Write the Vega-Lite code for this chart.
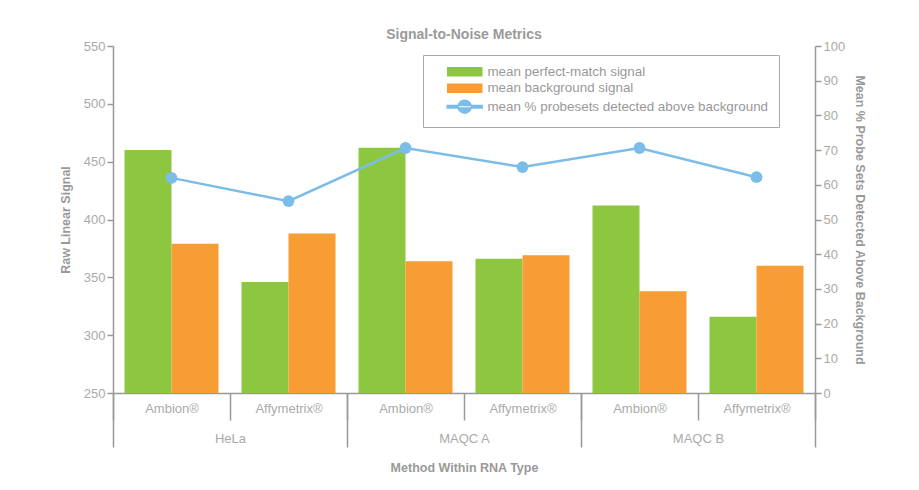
{
  "$schema": "https://vega.github.io/schema/vega-lite/v6.json",
  "width": 702,
  "height": 347,
  "autosize": {"type": "none"},
  "padding": {"left": 113, "top": 46, "right": 104, "bottom": 97},
  "background": "white",
  "title": {"text": "Signal-to-Noise Metrics", "fontSize": 14, "font": "Liberation Sans", "fontWeight": "bold", "color": "#9a9a9a", "anchor": "middle", "offset": -2},
  "config": {
    "view": {"stroke": null},
    "axis": {"domainColor": "#999999", "tickColor": "#999999", "labelColor": "#aaaaaa", "labelFont": "Liberation Sans", "labelFontSize": 13, "titleFont": "Liberation Sans", "titleFontSize": 12.5, "titleFontWeight": "bold", "titleColor": "#999999", "grid": false, "domainWidth": 1.5, "tickWidth": 1.5}
  },
  "datasets": {
    "bars": [
      {"cat": "HeLa|Ambion®", "series": "mean perfect-match signal", "value": 460},
      {"cat": "HeLa|Ambion®", "series": "mean background signal", "value": 379},
      {"cat": "HeLa|Affymetrix®", "series": "mean perfect-match signal", "value": 346},
      {"cat": "HeLa|Affymetrix®", "series": "mean background signal", "value": 388},
      {"cat": "MAQC A|Ambion®", "series": "mean perfect-match signal", "value": 462},
      {"cat": "MAQC A|Ambion®", "series": "mean background signal", "value": 364},
      {"cat": "MAQC A|Affymetrix®", "series": "mean perfect-match signal", "value": 366},
      {"cat": "MAQC A|Affymetrix®", "series": "mean background signal", "value": 369},
      {"cat": "MAQC B|Ambion®", "series": "mean perfect-match signal", "value": 412},
      {"cat": "MAQC B|Ambion®", "series": "mean background signal", "value": 338},
      {"cat": "MAQC B|Affymetrix®", "series": "mean perfect-match signal", "value": 316},
      {"cat": "MAQC B|Affymetrix®", "series": "mean background signal", "value": 360}
    ],
    "pct": [
      {"cat": "HeLa|Ambion®", "series": "mean % probesets detected above background", "pct": 62},
      {"cat": "HeLa|Affymetrix®", "series": "mean % probesets detected above background", "pct": 55.3},
      {"cat": "MAQC A|Ambion®", "series": "mean % probesets detected above background", "pct": 70.6},
      {"cat": "MAQC A|Affymetrix®", "series": "mean % probesets detected above background", "pct": 65.1},
      {"cat": "MAQC B|Ambion®", "series": "mean % probesets detected above background", "pct": 70.6},
      {"cat": "MAQC B|Affymetrix®", "series": "mean % probesets detected above background", "pct": 62.2}
    ],
    "groups": [{"group": "HeLa"}, {"group": "MAQC A"}, {"group": "MAQC B"}]
  },
  "layer": [
    {
      "data": {"name": "bars"},
      "mark": {"type": "bar"},
      "encoding": {
        "x": {"field": "cat", "type": "nominal",
          "scale": {"domain": ["HeLa|Ambion®", "HeLa|Affymetrix®", "MAQC A|Ambion®", "MAQC A|Affymetrix®", "MAQC B|Ambion®", "MAQC B|Affymetrix®"], "paddingInner": 0, "paddingOuter": 0},
          "axis": {"orient": "bottom", "title": null, "labelExpr": "split(datum.label,'|')[1]", "labelAngle": 0, "tickBand": "extent", "tickSize": 27, "labelPadding": -18, "labelBaseline": "top"}},
        "xOffset": {"field": "series", "type": "nominal", "scale": {"domain": ["mean perfect-match signal", "mean background signal"], "paddingInner": 0, "paddingOuter": 0.245}},
        "y": {"field": "value", "type": "quantitative", "scale": {"domain": [250, 550], "zero": false, "nice": false},
          "axis": {"orient": "left", "title": "Raw Linear Signal", "values": [250, 300, 350, 400, 450, 500, 550], "tickSize": 6, "labelPadding": 2, "titlePadding": 11}},
        "y2": {"datum": 250},
        "color": {"field": "series", "type": "nominal",
          "scale": {"domain": ["mean perfect-match signal", "mean background signal", "mean % probesets detected above background"], "range": ["#8dc63f", "#f79d33", "#7bbde8"]},
          "legend": {
            "title": null, "orient": "none", "legendX": 310, "legendY": 9,
            "strokeColor": "#aaaaaa", "padding": 10, "symbolOffset": 25, "labelOffset": 16, "rowPadding": 1.5,
            "labelFontSize": 13.4, "labelColor": "#999999", "labelFont": "Liberation Sans", "symbolSize": 100, "labelLimit": 400,
            "encode": {"symbols": {"update": {
              "shape": {"signal": "datum.value === 'mean % probesets detected above background' ? 'M-3.5,-0.25H3.5V0.25H-3.5Z M-1.3,0A1.3,1.3 0 1,0 1.3,0A1.3,1.3 0 1,0 -1.3,0Z' : 'M-3.4,-0.8H3.4V0.8H-3.4Z'"},
              "fill": {"signal": "scale('color', datum.value)"},
              "stroke": {"value": "transparent"},
              "opacity": {"value": 1}
            }}}
          }}
      }
    },
    {
      "data": {"name": "pct"},
      "mark": {"type": "line", "strokeWidth": 2.5, "point": {"filled": true, "size": 140, "opacity": 1}},
      "encoding": {
        "x": {"field": "cat", "type": "nominal",
          "scale": {"domain": ["HeLa|Ambion®", "HeLa|Affymetrix®", "MAQC A|Ambion®", "MAQC A|Affymetrix®", "MAQC B|Ambion®", "MAQC B|Affymetrix®"], "paddingInner": 0, "paddingOuter": 0},
          "axis": null},
        "y": {"field": "pct", "type": "quantitative", "scale": {"domain": [0, 100], "nice": false},
          "axis": {"orient": "right", "title": "Mean % Probe Sets Detected Above Background", "values": [0, 10, 20, 30, 40, 50, 60, 70, 80, 90, 100], "tickSize": 6, "labelPadding": 2, "titlePadding": 8}},
        "color": {"field": "series", "type": "nominal"}
      }
    },
    {
      "data": {"name": "groups"},
      "mark": {"type": "rule", "opacity": 0},
      "encoding": {
        "x": {"field": "group", "type": "nominal",
          "scale": {"domain": ["HeLa", "MAQC A", "MAQC B"], "paddingInner": 0, "paddingOuter": 0},
          "axis": {"orient": "bottom", "title": "Method Within RNA Type", "domain": false, "labelAngle": 0, "tickBand": "extent", "tickSize": 54, "labelPadding": -15, "labelBaseline": "top", "titlePadding": 14}}
      }
    }
  ],
  "resolve": {"scale": {"x": "independent", "y": "independent"}}
}
